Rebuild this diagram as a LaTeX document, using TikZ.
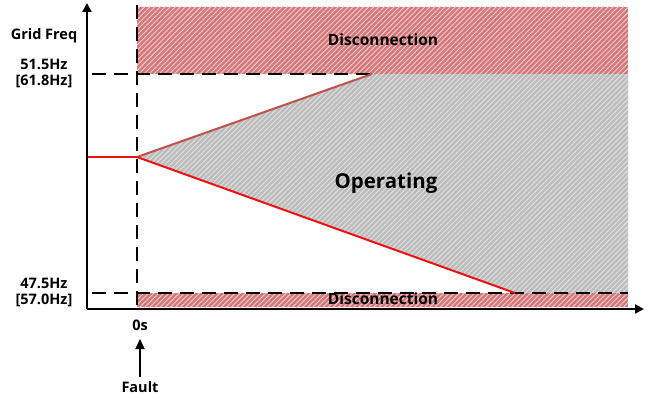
\documentclass[tikz,border=0pt]{standalone}
\usepackage{fontspec}
\setmainfont{Open Sans}
\usetikzlibrary{arrows.meta,patterns.meta}
\definecolor{discred}{HTML}{D6777A}
\definecolor{discstripe}{HTML}{F2CFCF}
\definecolor{opgray}{HTML}{BCBCBC}
\definecolor{opstripe}{HTML}{E2E2E2}
\definecolor{upred}{HTML}{C0504D}
\definecolor{lowred}{HTML}{F01010}
\tikzset{
  disc/.style={preaction={fill=discred},pattern={Lines[angle=45,distance=3.6pt,line width=0.9pt]},pattern color=discstripe},
  oper/.style={preaction={fill=opgray},pattern={Lines[angle=45,distance=3.6pt,line width=0.9pt]},pattern color=opstripe},
  axis/.style={line width=2.2pt,-{Triangle[length=9pt,width=9pt]}},
  dsh/.style={line width=2.2pt,dash pattern=on 14pt off 8pt},
  lbl/.style={font=\fontsize{14.5}{15}\selectfont\bfseries,align=center,inner sep=0pt},
  big/.style={font=\fontsize{15.5}{17}\selectfont\bfseries,inner sep=0pt},
  huge/.style={font=\fontsize{20.5}{22}\selectfont\bfseries,inner sep=0pt}
}
\begin{document}
\begin{tikzpicture}[x=1pt,y=-1pt]
\useasboundingbox (0,0) rectangle (650,396);
% regions
\fill[disc] (137,7) rectangle (628,74);
\fill[oper] (137,157) -- (372,74) -- (628,74) -- (628,293) -- (515,293) -- cycle;
\fill[disc] (137,293) rectangle (628,307);
% dashed lines
\draw[dsh] (137,5) -- (137,309);
\draw[dsh] (92,74) -- (372,74);
\draw[dsh] (92,293) -- (628,293);
% frequency trajectory
\coordinate (f0) at (87,157);
\coordinate (ft) at (137,157);
\coordinate (fu) at (372,74);
\coordinate (fl) at (515,293);
\draw[lowred,line width=2pt] (f0) -- (ft);
\draw[upred,line width=2pt] (ft) -- (fu);
\draw[lowred,line width=2pt] (ft) -- (fl);
% axes
\coordinate (o) at (87,309);
\coordinate (ytop) at (87,3);
\coordinate (xend) at (644,309);
\draw[axis] (o) -- (ytop);
\draw[axis] (87,309) -- (xend);
% labels
\node[lbl] (gf) at (44,36) {Grid Freq};
\node[lbl] (hi) at (44,73) {51.5Hz\\[1pt][61.8Hz]};
\node[lbl] (lo) at (44,292) {47.5Hz\\[1pt][57.0Hz]};
\node[lbl] (zs) at (140,325) {0s};
\node[lbl] (fault) at (140,387) {Fault};
\coordinate (ftail) at (140,377);
\coordinate (fhead) at (140,339);
\draw[line width=2.2pt,-{Triangle[length=10pt,width=9pt]}] (ftail) -- (fhead);
\node[big] (d1) at (383,40) {Disconnection};
\node[huge] (op) at (386,183) {Operating};
\node[big] (d2) at (383,299) {Disconnection};
\end{tikzpicture}
\end{document}
